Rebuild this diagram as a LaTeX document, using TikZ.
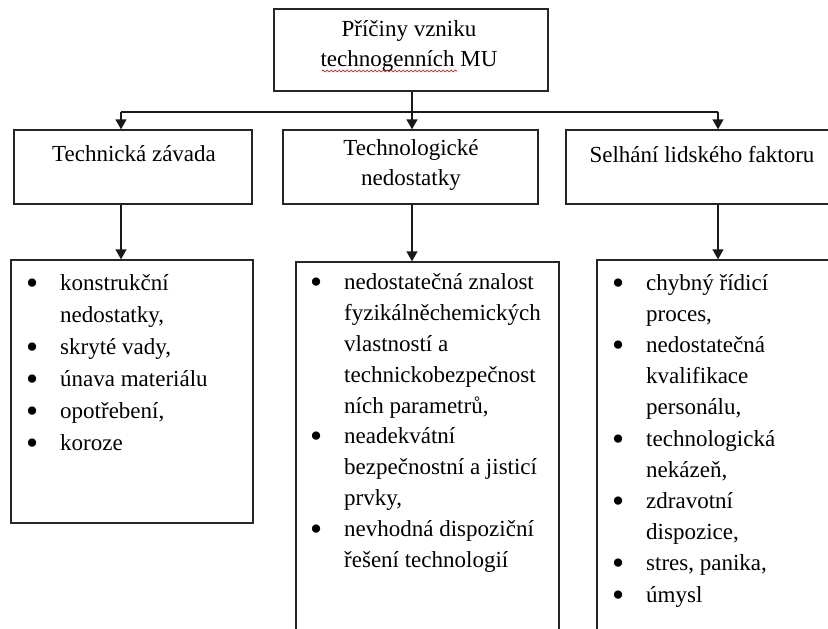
\documentclass[tikz,border=0pt]{standalone}
\usepackage{graphicx}
\usepackage{fontspec}
\setmainfont{Liberation Serif}
\usetikzlibrary{arrows.meta,decorations.pathmorphing}

% bullet item and its continuation lines
\newcommand\bigdot{\raisebox{-4pt}{\scalebox{1.5}{\textbullet}}}
\newcommand\bitem[1]{\makebox[33pt][l]{\hspace*{-1pt}\bigdot}#1}
\newcommand\bcont[1]{\hspace*{33pt}#1}

\begin{document}
\begin{tikzpicture}[x=1pt,y=-1pt,
  frame/.style={draw=black!85,line width=1.3pt,inner sep=0pt,minimum width=#1},
  heading/.style={font=\fontsize{23}{29.5}\selectfont,align=center,inner sep=0pt,anchor=base},
  listtext/.style={font=\fontsize{23}{#1}\selectfont,align=left,inner sep=0pt,anchor=base west},
  link/.style={draw=black!90,line width=1.3pt},
  arr/.style={link,-{Triangle[width=11pt,length=10pt]}}]
\useasboundingbox (0,0) rectangle (828,629);
\clip (0,0) rectangle (828,629);

% column positions of the connectors
\coordinate (c1) at (121,0);
\coordinate (c2) at (412,0);
\coordinate (c3) at (718,0);
\coordinate (bar) at (412,112);

% root (multi-line nodes are placed by the baseline of their last line)
\node[frame=274pt,minimum height=82pt] (top) at (411,50) {};
\node[heading] (toptxt) at (409,66) {Příčiny vzniku\\technogenních MU};
\draw[red!85!black,line width=0.6pt,decorate,decoration={snake,segment length=4pt,amplitude=1pt}]
  (322,71) -- (457,71);

% categories
\node[frame=238pt,minimum height=74pt] (b1) at (133,167) {};
\node[frame=255pt,minimum height=74pt] (b2) at (410.5,167) {};
\node[frame=304pt,minimum height=74pt] (b3) at (718,167) {};
\node[heading] (b1txt) at (134,161) {Technická závada};
\node[heading] (b2txt) at (411,185) {Technologické\\nedostatky};
\node[heading] (b3txt) at (702,162) {Selhání lidského faktoru};

% lists
\node[frame=242pt,minimum height=263pt] (l1) at (132,391.5) {};
\node[frame=263pt,minimum height=438pt] (l2) at (427.5,481) {};
\node[frame=242pt,minimum height=440pt] (l3) at (718,480) {};

\node[listtext=32] (l1txt) at (27,450) {\bitem{konstrukční}\\\bcont{nedostatky,}\\\bitem{skryté vady,}\\\bitem{únava materiálu}\\\bitem{opotřebení,}\\\bitem{koroze}};
\node[listtext=30.8] (l2txt) at (311,567) {\bitem{nedostatečná znalost}\\\bcont{fyzikálněchemických}\\\bcont{vlastností a}\\\bcont{technickobezpečnost}\\\bcont{ních parametrů,}\\\bitem{neadekvátní}\\\bcont{bezpečnostní a jisticí}\\\bcont{prvky,}\\\bitem{nevhodná dispoziční}\\\bcont{řešení technologií}};
\node[listtext=31.2] (l3txt) at (613,602) {\bitem{chybný řídicí}\\\bcont{proces,}\\\bitem{nedostatečná}\\\bcont{kvalifikace}\\\bcont{personálu,}\\\bitem{technologická}\\\bcont{nekázeň,}\\\bitem{zdravotní}\\\bcont{dispozice,}\\\bitem{stres, panika,}\\\bitem{úmysl}};

% connectors
\draw[link] (top.south -| c2) -- (bar);
\draw[link] (bar -| c1) -- (bar -| c3);
\draw[arr] (bar -| c1) -- (b1.north -| c1);
\draw[arr] (bar -| c2) -- (b2.north -| c2);
\draw[arr] (bar -| c3) -- (b3.north -| c3);
\draw[arr] (b1.south -| c1) -- (l1.north -| c1);
\draw[arr] (b2.south -| c2) -- (l2.north -| c2);
\draw[arr] (b3.south -| c3) -- (l3.north -| c3);
\end{tikzpicture}
\end{document}
